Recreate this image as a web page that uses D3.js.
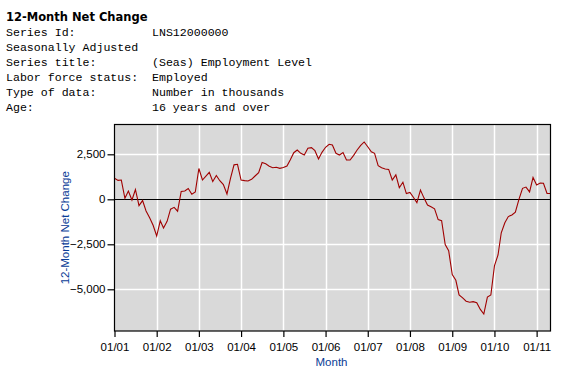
<!DOCTYPE html>
<html>
<head>
<meta charset="utf-8">
<script src="https://cdn.jsdelivr.net/npm/d3@7"></script>
<style>
  body { margin: 0; background: #fff; }
  svg { display: block; }
</style>
</head>
<body>
<svg id="chart" width="578" height="388"></svg>
<script>
// Header lines (label, value)
const title = '12-Month Net Change';
const infoLabels = ['Series Id:', 'Seasonally Adjusted', 'Series title:', 'Labor force status:', 'Type of data:', 'Age:'];
const infoValues = ['LNS12000000', '', '(Seas) Employment Level', 'Employed', 'Number in thousands', '16 years and over'];

// monthly values from Jan 2001, thousands
const startMonth = '2001-01';
const netChange = [
  1167, 1050, 1070, 55, 461, -40, 545, -350, -70, -650, -1030, -1440,
  -2040, -1195, -1595, -1225, -550, -446, -660, 433, 460, 600, 285, 405,
  1710, 1072, 1275, 1500, 990, 1320, 1033, 820, 295, 1150, 1915, 1944,
  1072, 1040, 1017, 1111, 1294, 1478, 2045, 1970, 1840, 1756, 1780, 1722,
  1765, 1850, 2183, 2589, 2739, 2555, 2461, 2833, 2867, 2700, 2239, 2611,
  2889, 3055, 3017, 2555, 2461, 2600, 2183, 2183, 2440, 2739, 3000, 3185,
  2922, 2644, 2555, 1867, 1756, 1683, 1660, 1072, 1360, 644, 950, 320,
  380, 100, -189, 517, 80, -317, -410, -530, -1130, -1187, -2510, -2860,
  -4180, -4500, -5310, -5480, -5660, -5722, -5685, -5744, -6120, -6372, -5430, -5317,
  -3700, -3094, -1860, -1300, -960, -868, -720, 0, 611, 680, 410, 1215,
  794, 900, 889, 320, 320
];
const yTicks = [-5000, -2500, 0, 2500];
const yTitle = '12-Month Net Change';
const xTitle = 'Month';

const svg = d3.select('#chart');
const blue = '#0a3c96';

// header
svg.append('text')
  .attr('x', 6).attr('y', 21)
  .attr('font-family', 'DejaVu Sans, Verdana, sans-serif')
  .attr('font-weight', 'bold')
  .attr('font-size', 11.5)
  .text(title);

infoLabels.forEach((lab, i) => {
  const ty = 36 + i * 15;
  svg.append('text').attr('x', 6).attr('y', ty)
    .attr('font-family', 'Liberation Mono, Courier New, monospace')
    .attr('font-size', 11.6)
    .text(lab);
  svg.append('text').attr('x', 152).attr('y', ty)
    .attr('font-family', 'Liberation Mono, Courier New, monospace')
    .attr('font-size', 11.6)
    .text(infoValues[i]);
});

// data
const parse = d3.utcParse('%Y-%m');
const t0 = parse(startMonth);
const data = netChange.map((v, i) => ({ date: d3.utcMonth.offset(t0, i), value: v }));

const pl = 114.5, pr = 550.5, pt = 124.5, pb = 331;

const x = d3.scaleTime()
  .domain(d3.extent(data, d => d.date))
  .range([pl, pr]);

const y = d3.scaleLinear()
  .domain([-7317, 4156])
  .range([pb, pt]);

// plot background
svg.append('rect')
  .attr('x', pl).attr('y', pt)
  .attr('width', pr - pl).attr('height', pb - pt)
  .attr('fill', '#d9d9d9');

const years = d3.utcYear.range(d3.utcYear.floor(x.domain()[0]), x.domain()[1]);

// grid
svg.append('g').selectAll('line')
  .data(years.slice(1))
  .join('line')
  .attr('x1', d => Math.round(x(d)) + 0.5).attr('x2', d => Math.round(x(d)) + 0.5)
  .attr('y1', pt).attr('y2', pb)
  .attr('stroke', '#fff').attr('stroke-width', 1.5);

svg.append('g').selectAll('line')
  .data(yTicks.filter(d => d !== 0))
  .join('line')
  .attr('x1', pl).attr('x2', pr)
  .attr('y1', d => Math.round(y(d)) + 0.5).attr('y2', d => Math.round(y(d)) + 0.5)
  .attr('stroke', '#fff').attr('stroke-width', 1.5);

// zero line
svg.append('line')
  .attr('x1', pl).attr('x2', pr)
  .attr('y1', Math.round(y(0)) + 0.5).attr('y2', Math.round(y(0)) + 0.5)
  .attr('stroke', '#000').attr('stroke-width', 1.2);

// series
const line = d3.line()
  .x(d => x(d.date))
  .y(d => y(d.value));

svg.append('path')
  .datum(data)
  .attr('fill', 'none')
  .attr('stroke', '#a00000')
  .attr('stroke-width', 1.1)
  .attr('d', line);

// frame
svg.append('rect')
  .attr('x', pl).attr('y', pt)
  .attr('width', pr - pl).attr('height', pb - pt)
  .attr('fill', 'none')
  .attr('stroke', '#000').attr('stroke-width', 1.2);

// axes
const xAxis = d3.axisBottom(x)
  .tickValues(years)
  .tickFormat(d3.utcFormat('%m/%y'))
  .tickSize(6)
  .tickSizeOuter(0);

const gx = svg.append('g')
  .attr('transform', `translate(0,${pb})`)
  .call(xAxis);
gx.select('.domain').remove();
gx.selectAll('line').attr('stroke', '#000').attr('stroke-width', 1.2);
gx.selectAll('text')
  .attr('font-family', 'Liberation Sans, Arial, sans-serif')
  .attr('font-size', 11.5)
  .attr('fill', '#000')
  .attr('dy', '0.95em');

const yAxis = d3.axisLeft(y)
  .tickValues(yTicks)
  .tickFormat(d3.format(','))
  .tickSize(7)
  .tickSizeOuter(0);

const gy = svg.append('g')
  .attr('transform', `translate(${pl},0)`)
  .call(yAxis);
gy.select('.domain').remove();
gy.selectAll('line').attr('stroke', '#000').attr('stroke-width', 1.2);
gy.selectAll('text')
  .attr('font-family', 'Liberation Sans, Arial, sans-serif')
  .attr('font-size', 11.5)
  .attr('fill', '#000')
  .attr('x', -9);

// axis titles
svg.append('text')
  .attr('x', (pl + pr) / 2 - 1).attr('y', 366)
  .attr('text-anchor', 'middle')
  .attr('font-family', 'Liberation Sans, Arial, sans-serif')
  .attr('font-size', 11.5)
  .attr('fill', blue)
  .text(xTitle);

svg.append('text')
  .attr('transform', `translate(69,${(pt + pb) / 2}) rotate(-90)`)
  .attr('text-anchor', 'middle')
  .attr('font-family', 'Liberation Sans, Arial, sans-serif')
  .attr('font-size', 11.5)
  .attr('fill', blue)
  .text(yTitle);
</script>
</body>
</html>
